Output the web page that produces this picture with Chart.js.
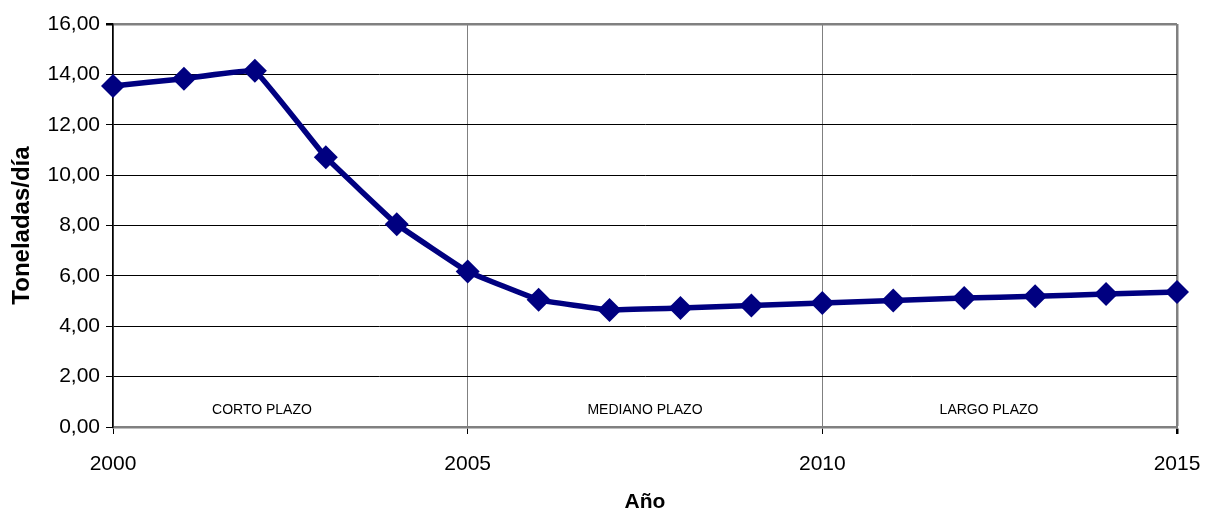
<!DOCTYPE html>
<html>
<head>
<meta charset="utf-8">
<script src="https://cdn.jsdelivr.net/npm/chart.js@4.4.1/dist/chart.umd.min.js"></script>
<style>
  html, body { margin: 0; padding: 0; background: #fff; }
  #wrap { width: 1205px; height: 515px; }
</style>
</head>
<body>
<div id="wrap"><canvas id="chart"></canvas></div>
<script>
// datos
const years = [2000, 2001, 2002, 2003, 2004, 2005, 2006, 2007, 2008, 2009, 2010, 2011, 2012, 2013, 2014, 2015];
const toneladas = [13.54, 13.83, 14.14, 10.71, 8.05, 6.17, 5.05, 4.65, 4.72, 4.82, 4.92, 5.02, 5.12, 5.19, 5.28, 5.36];
const xTicks = [2000, 2005, 2010, 2015];
const yTicks = [0, 2, 4, 6, 8, 10, 12, 14, 16];
const periodos = ["CORTO PLAZO", "MEDIANO PLAZO", "LARGO PLAZO"];

const FONT = "'Liberation Sans', Arial, sans-serif";

// etiquetas de los periodos dentro del area del grafico
const periodLabels = {
  id: "periodLabels",
  afterDatasetsDraw(chart) {
    const { ctx, scales } = chart;
    const anchors = [2002.1, 2007.5, 2012.35];
    ctx.save();
    ctx.font = "14px " + FONT;
    ctx.fillStyle = "#000";
    ctx.textAlign = "center";
    ctx.textBaseline = "middle";
    periodos.forEach((txt, i) => {
      ctx.fillText(txt, scales.x.getPixelForValue(anchors[i]), scales.y.getPixelForValue(0.65));
    });
    ctx.restore();
  },
};

new Chart(document.getElementById("chart"), {
  type: "line",
  data: {
    datasets: [
      {
        data: years.map((y, i) => ({ x: y, y: toneladas[i] })),
        borderColor: "#000080",
        backgroundColor: "#000080",
        borderWidth: 5.5,
        tension: 0.06,
        pointStyle: "rectRot",
        pointRadius: 12,
        pointHoverRadius: 12,
        pointBorderWidth: 0,
        clip: false,
      },
    ],
  },
  options: {
    responsive: true,
    maintainAspectRatio: false,
    animation: false,
    layout: { padding: { top: 24, right: 28, left: 0, bottom: 0 } },
    plugins: {
      legend: { display: false },
      tooltip: { enabled: false },
    },
    scales: {
      x: {
        type: "linear",
        min: 2000,
        max: 2015,
        afterBuildTicks: (scale) => {
          scale.ticks = xTicks.map((v) => ({ value: v }));
        },
        afterFit: (scale) => {
          scale.height = 88;
          scale.paddingLeft = 0;
          scale.paddingRight = 0;
        },
        ticks: {
          color: "#000",
          font: { family: FONT, size: 21 },
          padding: 18,
          callback: (v) => String(v),
          maxRotation: 0,
        },
        grid: {
          color: "#808080",
          lineWidth: (c) => (c.tick && c.tick.value === 2015 ? 2.5 : 1),
          tickColor: "#000",
          tickLength: 7,
        },
        border: { color: "#808080", width: 2.5 },
        title: {
          display: true,
          text: "Año",
          color: "#000",
          font: { family: FONT, size: 21, weight: "bold" },
          padding: { top: 0, bottom: 0 },
        },
      },
      y: {
        min: 0,
        max: 16,
        afterBuildTicks: (scale) => {
          scale.ticks = yTicks.map((v) => ({ value: v }));
        },
        afterFit: (scale) => {
          scale.width = 113;
        },
        ticks: {
          color: "#000",
          font: { family: FONT, size: 21 },
          padding: 6,
          callback: (v) => v.toFixed(2).replace(".", ","),
        },
        grid: {
          color: (c) => (c.tick && c.tick.value === 16 ? "#808080" : "#000"),
          lineWidth: (c) => (c.tick && c.tick.value === 16 ? 2.5 : 1),
          tickColor: "#000",
          tickLength: 7,
        },
        border: { color: "#000", width: 1.5 },
        title: {
          display: true,
          text: "Toneladas/día",
          color: "#000",
          font: { family: FONT, size: 24, weight: "bold" },
          padding: { top: 8, bottom: 0 },
        },
      },
    },
  },
  plugins: [periodLabels],
});
</script>
</body>
</html>
